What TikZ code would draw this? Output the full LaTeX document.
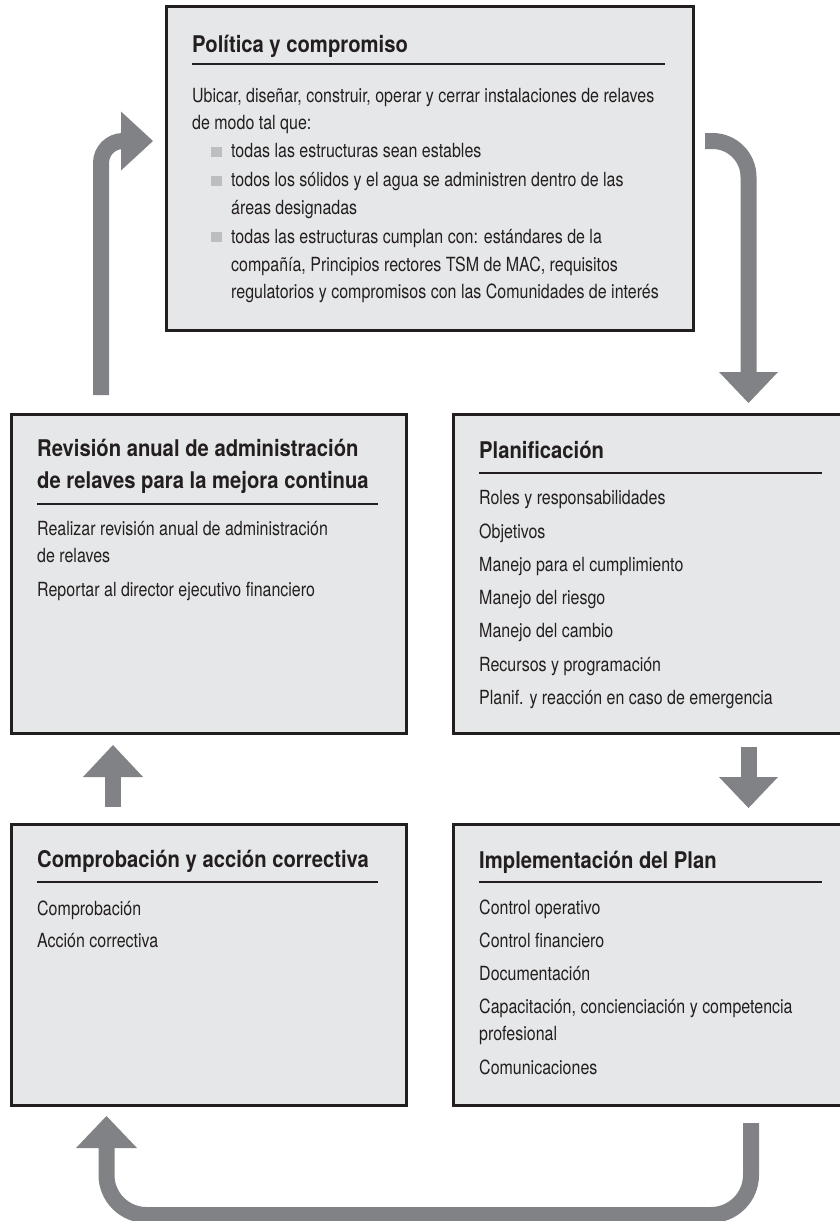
\documentclass[tikz,border=0pt]{standalone}
\usepackage{fontspec}
\setmainfont{TeX Gyre Heros}[FakeStretch=0.82]
\newfontfamily\titlefont{TeX Gyre Heros}[FakeStretch=0.88]
\definecolor{boxgray}{HTML}{E6E7E8}
\definecolor{boxline}{HTML}{231F20}
\definecolor{arrgray}{HTML}{808285}
\definecolor{bulgray}{HTML}{BCBEC0}
\definecolor{ink}{HTML}{231F20}
\tikzset{
  panel/.style={draw=boxline, line width=3pt, fill=boxgray, anchor=north west, inner sep=0pt},
  txt/.style={anchor=base west, inner sep=0pt, text=ink, font=\fontsize{19.5}{24}\selectfont},
  ttl/.style={anchor=base west, inner sep=0pt, text=ink, font=\titlefont\bfseries\fontsize{23}{28}\selectfont},
  hrule/.style={draw=ink, line width=2.4pt},
  shaft/.style={draw=arrgray, line width=16pt},
  head/.style={fill=arrgray},
  bul/.style={fill=bulgray}
}
\begin{document}
\begin{tikzpicture}[x=1pt,y=-1pt]
\useasboundingbox (0,0) rectangle (840,1221);
\begin{scope}
\clip (0,0) rectangle (840,1221);
% panels
\node[panel, minimum width=527pt, minimum height=324pt] (pol) at (165,5) {};
\node[panel, minimum width=395pt, minimum height=319pt] (rev) at (10,413) {};
\node[panel, minimum width=410pt, minimum height=319pt] (pla) at (452,413) {};
\node[panel, minimum width=395pt, minimum height=281pt] (com) at (10,823) {};
\node[panel, minimum width=410pt, minimum height=281pt] (imp) at (452,823) {};

% Politica
\node[ttl] (polT) at (192,52) {Política y compromiso};
\draw[hrule] (192,64) -- (665,64);
\node[txt] (p1) at (192,102) {Ubicar, diseñar, construir, operar y cerrar instalaciones de relaves};
\node[txt] (p2) at (192,129.5) {de modo tal que:};
\fill[bul] (211,146.5) rectangle (222,156.5);
\node[txt] (p3) at (231,157) {todas las estructuras sean estables};
\fill[bul] (211,175.5) rectangle (222,185.5);
\node[txt] (p4) at (231,186) {todos los sólidos y el agua se administren dentro de las};
\node[txt] (p5) at (231,214) {áreas designadas};
\fill[bul] (211,232) rectangle (222,242);
\node[txt] (p6) at (231,243.5) {todas las estructuras cumplan con: estándares de la};
\node[txt] (p7) at (231,271) {compañía, Principios rectores TSM de MAC, requisitos};
\node[txt] (p8) at (231,298.5) {regulatorios y compromisos con las Comunidades de interés};

% Revision
\node[ttl] (revT1) at (37,456) {Revisión anual de administración};
\node[ttl] (revT2) at (37,488) {de relaves para la mejora continua};
\draw[hrule] (37,504) -- (378,504);
\node[txt] (r1) at (37,535) {Realizar revisión anual de administración};
\node[txt] (r2) at (37,562.5) {de relaves};
\node[txt] (r3) at (37,596) {Reportar al director ejecutivo financiero};

% Planificacion
\node[ttl] (plaT) at (479,458) {Planificación};
\draw[hrule] (479,473) -- (822,473);
\node[txt] (l1) at (479,504) {Roles y responsabilidades};
\node[txt] (l2) at (479,538) {Objetivos};
\node[txt] (l3) at (479,571) {Manejo para el cumplimiento};
\node[txt] (l4) at (479,604) {Manejo del riesgo};
\node[txt] (l5) at (479,637) {Manejo del cambio};
\node[txt] (l6) at (479,671) {Recursos y programación};
\node[txt] (l7) at (479,704) {Planif. y reacción en caso de emergencia};

% Comprobacion
\node[ttl] (comT) at (37,867) {Comprobación y acción correctiva};
\draw[hrule] (37,882) -- (378,882);
\node[txt] (c1) at (37,915) {Comprobación};
\node[txt] (c2) at (37,947) {Acción correctiva};

% Implementacion
\node[ttl] (impT) at (479,868) {Implementación del Plan};
\draw[hrule] (479,882) -- (822,882);
\node[txt] (i1) at (479,914) {Control operativo};
\node[txt] (i2) at (479,947) {Control financiero};
\node[txt] (i3) at (479,980) {Documentación};
\node[txt] (i4) at (479,1013) {Capacitación, concienciación y competencia};
\node[txt] (i5) at (479,1040.5) {profesional};
\node[txt] (i6) at (479,1074) {Comunicaciones};

% arrows
\coordinate (a1s) at (101,395);
\coordinate (a1e) at (122,141);
\draw[shaft, rounded corners=22pt] (a1s) |- (a1e);
\fill[head] (121,111.5) -- (153,141) -- (121,170.5) -- cycle;

\coordinate (a2s) at (705,141);
\coordinate (a2e) at (748.5,373);
\draw[shaft, rounded corners=36pt] (a2s) -| (a2e);
\fill[head] (719,372) -- (748.5,403) -- (778,372) -- cycle;

\coordinate (a3s) at (748.5,747);
\coordinate (a3e) at (748.5,778);
\draw[shaft] (a3s) -- (a3e);
\fill[head] (719,777) -- (748.5,808) -- (778,777) -- cycle;

\coordinate (a4s) at (113,807);
\coordinate (a4e) at (113,776);
\draw[shaft] (a4s) -- (a4e);
\fill[head] (83,777) -- (113,745) -- (143,777) -- cycle;

\coordinate (a5s) at (751,1123);
\coordinate (a5m) at (106.5,1215);
\coordinate (a5e) at (106.5,1147);
\draw[shaft, rounded corners=40pt] (a5s) |- (a5m) -- (a5e);
\fill[head] (76,1148) -- (106.5,1116) -- (137,1148) -- cycle;
\end{scope}
\end{tikzpicture}
\end{document}
